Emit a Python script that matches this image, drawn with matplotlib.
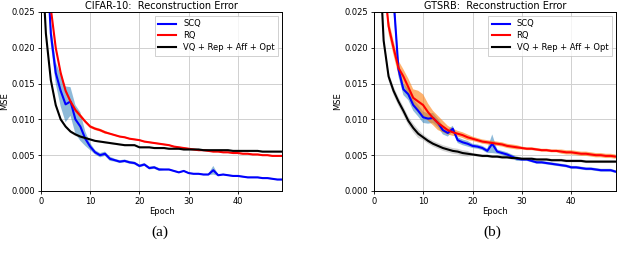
import numpy as np
import matplotlib.pyplot as plt

epochs = np.arange(50)

# CIFAR-10 reconstruction error (mean per epoch)
cifar_scq = [0.050, 0.035, 0.022, 0.0165, 0.0140, 0.0121, 0.0125, 0.0100, 0.0090, 0.0073,
             0.0062, 0.0054, 0.0050, 0.0052, 0.0045, 0.0043, 0.0041, 0.0042, 0.0040, 0.0039,
             0.0035, 0.0037, 0.0032, 0.0033, 0.0030, 0.0030, 0.0030, 0.0028, 0.0026, 0.0028,
             0.0025, 0.0024, 0.0024, 0.0023, 0.0023, 0.0029, 0.0022, 0.0023, 0.0022, 0.0021,
             0.0021, 0.0020, 0.0019, 0.0019, 0.0019, 0.0018, 0.0018, 0.0017, 0.0016, 0.0016]
cifar_scq_std = [0.002, 0.002, 0.0015, 0.0015, 0.0022, 0.0025, 0.0020, 0.0020, 0.0020, 0.0010,
                 0.0005, 0.0003, 0.0003, 0.0003, 0.0003, 0.0002, 0.0002, 0.0002, 0.0002, 0.0002,
                 0.0002, 0.0002, 0.0002, 0.0002, 0.0002, 0.0001, 0.0001, 0.0001, 0.0001, 0.0001,
                 0.0001, 0.0001, 0.0001, 0.0001, 0.0001, 0.0006, 0.0001, 0.0001, 0.0001, 0.0001,
                 0.0001, 0.0001, 0.0001, 0.0001, 0.0001, 0.0001, 0.0001, 0.0001, 0.0001, 0.0001]
cifar_rq = [0.060, 0.040, 0.0255, 0.0200, 0.0165, 0.0140, 0.0125, 0.0113, 0.0105, 0.0097,
            0.0090, 0.0087, 0.0085, 0.0082, 0.0080, 0.0078, 0.0076, 0.0075, 0.0073, 0.0072,
            0.0071, 0.0069, 0.0068, 0.0067, 0.0066, 0.0065, 0.0064, 0.0062, 0.0061, 0.0060,
            0.0059, 0.0058, 0.0057, 0.0057, 0.0056, 0.0055, 0.0055, 0.0054, 0.0054, 0.0053,
            0.0053, 0.0052, 0.0052, 0.0051, 0.0051, 0.0050, 0.0050, 0.0049, 0.0049, 0.0049]
cifar_rq_std = [0.0005, 0.0005, 0.0004, 0.0003, 0.0003, 0.0003, 0.0003, 0.0003, 0.0003, 0.0002,
                0.0002, 0.0002, 0.0002, 0.0002, 0.0001, 0.0001, 0.0001, 0.0001, 0.0001, 0.0001,
                0.0001, 0.0001, 0.0001, 0.0001, 0.0001, 0.0001, 0.0001, 0.0001, 0.0001, 0.0001,
                0.0001, 0.0001, 0.0001, 0.0001, 0.0001, 0.0001, 0.0001, 0.0001, 0.0001, 0.0001,
                0.0001, 0.0001, 0.0001, 0.0001, 0.0001, 0.0001, 0.0001, 0.0001, 0.0001, 0.0001]
cifar_vq = [0.035, 0.0220, 0.0155, 0.0120, 0.0100, 0.0090, 0.0083, 0.0079, 0.0076, 0.0074,
            0.0072, 0.0070, 0.0069, 0.0068, 0.0067, 0.0066, 0.0065, 0.0064, 0.0064, 0.0064,
            0.0061, 0.0061, 0.0061, 0.0060, 0.0060, 0.0060, 0.0059, 0.0059, 0.0059, 0.0058,
            0.0058, 0.0058, 0.0058, 0.0057, 0.0057, 0.0057, 0.0057, 0.0057, 0.0057, 0.0056,
            0.0056, 0.0056, 0.0056, 0.0056, 0.0056, 0.0055, 0.0055, 0.0055, 0.0055, 0.0055]
cifar_vq_std = [0.0002] * 10 + [0.0001] * 40

# GTSRB reconstruction error (mean per epoch)
gtsrb_scq = [0.080, 0.060, 0.045, 0.035, 0.027, 0.0170, 0.0142, 0.0135, 0.0120, 0.0112,
             0.0103, 0.0101, 0.0102, 0.0095, 0.0085, 0.0081, 0.0087, 0.0071, 0.0068, 0.0066,
             0.0063, 0.0062, 0.0060, 0.0056, 0.0066, 0.0055, 0.0053, 0.0051, 0.0048, 0.0045,
             0.0044, 0.0044, 0.0042, 0.0040, 0.0040, 0.0039, 0.0038, 0.0037, 0.0036, 0.0035,
             0.0033, 0.0033, 0.0032, 0.0031, 0.0031, 0.0030, 0.0029, 0.0029, 0.0029, 0.0027]
gtsrb_scq_std = [0.002, 0.002, 0.002, 0.002, 0.002, 0.0010, 0.0008, 0.0008, 0.0008, 0.0008,
                 0.0008, 0.0007, 0.0007, 0.0006, 0.0006, 0.0005, 0.0004, 0.0004, 0.0004, 0.0004,
                 0.0003, 0.0003, 0.0003, 0.0003, 0.0013, 0.0003, 0.0003, 0.0003, 0.0003, 0.0003,
                 0.0002, 0.0002, 0.0002, 0.0002, 0.0002, 0.0002, 0.0002, 0.0002, 0.0002, 0.0002,
                 0.0002, 0.0002, 0.0002, 0.0002, 0.0002, 0.0002, 0.0002, 0.0002, 0.0002, 0.0002]
gtsrb_rq = [0.070, 0.045, 0.030, 0.023, 0.0200, 0.0172, 0.0160, 0.0145, 0.0130, 0.0125,
            0.0120, 0.0110, 0.0102, 0.0095, 0.0090, 0.0085, 0.0082, 0.0080, 0.0078, 0.0075,
            0.0073, 0.0071, 0.0069, 0.0068, 0.0067, 0.0066, 0.0065, 0.0063, 0.0062, 0.0061,
            0.0060, 0.0059, 0.0059, 0.0058, 0.0057, 0.0057, 0.0056, 0.0056, 0.0055, 0.0054,
            0.0054, 0.0053, 0.0052, 0.0052, 0.0051, 0.0050, 0.0050, 0.0049, 0.0049, 0.0048]
gtsrb_rq_std = [0.001, 0.001, 0.001, 0.001, 0.0010, 0.0010, 0.0010, 0.0012, 0.0012, 0.0015,
                0.0015, 0.0012, 0.0010, 0.0010, 0.0008, 0.0006, 0.0005, 0.0004, 0.0004, 0.0004,
                0.0003, 0.0003, 0.0003, 0.0003, 0.0003, 0.0003, 0.0003, 0.0003, 0.0003, 0.0003,
                0.0002, 0.0002, 0.0002, 0.0002, 0.0002, 0.0002, 0.0002, 0.0002, 0.0003, 0.0003,
                0.0003, 0.0003, 0.0003, 0.0003, 0.0003, 0.0003, 0.0003, 0.0003, 0.0003, 0.0003]
gtsrb_vq = [0.060, 0.035, 0.0210, 0.0160, 0.0140, 0.0125, 0.0112, 0.0098, 0.0088, 0.0080,
            0.0075, 0.0070, 0.0066, 0.0063, 0.0060, 0.0058, 0.0056, 0.0055, 0.0053, 0.0052,
            0.0051, 0.0050, 0.0049, 0.0049, 0.0048, 0.0048, 0.0047, 0.0047, 0.0046, 0.0046,
            0.0045, 0.0045, 0.0045, 0.0044, 0.0044, 0.0044, 0.0043, 0.0043, 0.0043, 0.0042,
            0.0042, 0.0042, 0.0042, 0.0041, 0.0041, 0.0041, 0.0041, 0.0041, 0.0041, 0.0041]
gtsrb_vq_std = [0.0006] * 10 + [0.0004] * 10 + [0.0002] * 30

panels = [
    ("CIFAR-10:  Reconstruction Error", "(a)",
     cifar_scq, cifar_scq_std, cifar_rq, cifar_rq_std, cifar_vq, cifar_vq_std),
    ("GTSRB:  Reconstruction Error", "(b)",
     gtsrb_scq, gtsrb_scq_std, gtsrb_rq, gtsrb_rq_std, gtsrb_vq, gtsrb_vq_std),
]
axes_pos = [[0.064, 0.282, 0.377, 0.673], [0.584, 0.282, 0.378, 0.673]]
caption_x = [0.25, 0.77]

fig = plt.figure(figsize=(6.4, 2.66), dpi=100)

for i, (title, cap, scq, scq_s, rq, rq_s, vq, vq_s) in enumerate(panels):
    ax = fig.add_axes(axes_pos[i])
    scq, scq_s = np.array(scq), np.array(scq_s)
    rq, rq_s = np.array(rq), np.array(rq_s)
    vq, vq_s = np.array(vq), np.array(vq_s)

    ax.fill_between(epochs, scq - scq_s, scq + scq_s, color='tab:blue', alpha=0.5, lw=0)
    ax.fill_between(epochs, rq - rq_s, rq + rq_s, color='tab:orange', alpha=0.6, lw=0)
    ax.fill_between(epochs, vq - vq_s, vq + vq_s, color='gray', alpha=0.35, lw=0)
    ax.plot(epochs, scq, color='blue', lw=1.5, label='SCQ')
    ax.plot(epochs, rq, color='red', lw=1.5, label='RQ')
    ax.plot(epochs, vq, color='black', lw=1.5, label='VQ + Rep + Aff + Opt')

    ax.set_xlim(0, 49)
    ax.set_ylim(0, 0.025)
    ax.set_xticks([0, 10, 20, 30, 40])
    ax.set_yticks([0, 0.005, 0.010, 0.015, 0.020, 0.025])
    ax.set_yticklabels(['0.000', '0.005', '0.010', '0.015', '0.020', '0.025'])
    ax.tick_params(labelsize=6, length=2.5, width=0.6, pad=1.5)
    ax.grid(True, color='#d0d0d0', lw=0.7)
    ax.set_axisbelow(True)
    for s in ax.spines.values():
        s.set_linewidth(0.7)
    ax.set_xlabel('Epoch', fontsize=6, labelpad=1)
    ax.set_ylabel('MSE', fontsize=6, labelpad=2)
    ax.set_title(title, fontsize=7, pad=2)
    leg = ax.legend(loc='upper right', fontsize=6, handlelength=2.2, borderpad=0.4,
                    labelspacing=0.35, fancybox=False, edgecolor='#bbbbbb')
    leg.get_frame().set_linewidth(0.6)

    fig.text(caption_x[i], 0.125, cap, ha='center', va='center',
             fontsize=11, family='Liberation Serif')

plt.savefig('out.png', dpi=100)
